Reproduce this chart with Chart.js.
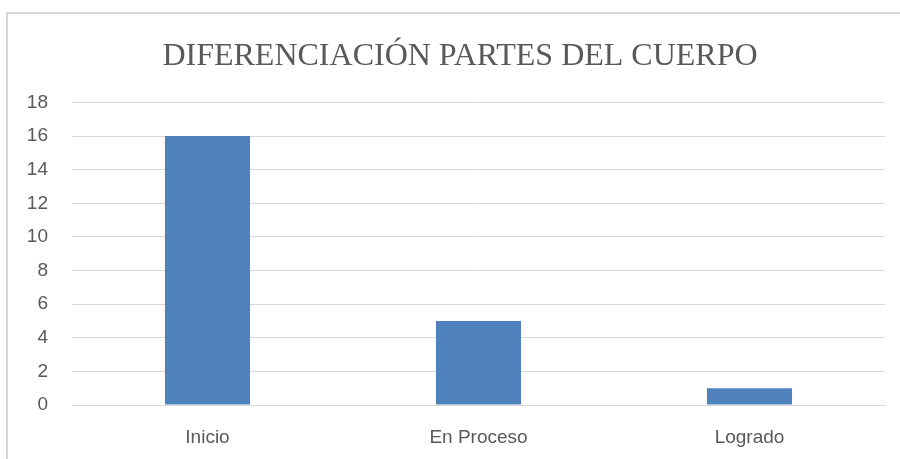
<!DOCTYPE html>
<html>
<head>
<meta charset="utf-8">
<script src="https://cdn.jsdelivr.net/npm/chart.js@4"></script>
<style>
  body { margin: 0; background: #fff; overflow: hidden; }
  #frame { position: absolute; left: 6px; top: 12px; width: 1000px; height: 1000px; border: 2px solid #d9d9d9; }
  #wrap { position: absolute; left: 0; top: 0; width: 920px; height: 459px; }
</style>
</head>
<body>
<div id="frame"></div>
<div id="wrap"><canvas id="bar-chart"></canvas></div>
<script>
// datos del grafico
let categorias = ["Inicio", "En Proceso", "Logrado"]
let valores = [16, 5, 1]
let tituloGrafico = "DIFERENCIACIÓN PARTES DEL CUERPO"

new Chart(document.getElementById("bar-chart"), {
  type: 'bar',
  data: {
    labels: categorias,
    datasets: [{
      data: valores,
      backgroundColor: "#4f81bd",
      borderWidth: 0,
      barPercentage: 0.314,
      categoryPercentage: 1
    }]
  },
  options: {
    responsive: true,
    maintainAspectRatio: false,
    animation: false,
    layout: { padding: 0 },
    plugins: {
      legend: { display: false },
      tooltip: { enabled: false },
      title: {
        display: true,
        text: tituloGrafico,
        color: "#595959",
        font: { family: "Liberation Serif", size: 32, weight: 'normal' },
        padding: { top: 37, bottom: 27 }
      }
    },
    scales: {
      x: {
        grid: { display: false },
        border: { color: "#d9d9d9", width: 1 },
        ticks: { color: "#595959", font: { family: "Liberation Sans", size: 19 }, padding: 13 },
        afterFit: function(scale) { scale.height = 54 }
      },
      y: {
        min: 0,
        max: 18,
        ticks: { stepSize: 2, color: "#595959", font: { family: "Liberation Sans", size: 19 }, padding: 24 },
        grid: { color: "#d9d9d9", drawTicks: false },
        border: { display: false },
        afterFit: function(scale) { scale.width = 72 }
      },
      // eje vacio a la derecha solo para dejar el margen
      yRight: {
        position: 'right',
        min: 0,
        max: 18,
        ticks: { display: false },
        grid: { display: false, drawTicks: false },
        border: { display: false },
        afterFit: function(scale) { scale.width = 35 }
      }
    }
  }
});
</script>
</body>
</html>
